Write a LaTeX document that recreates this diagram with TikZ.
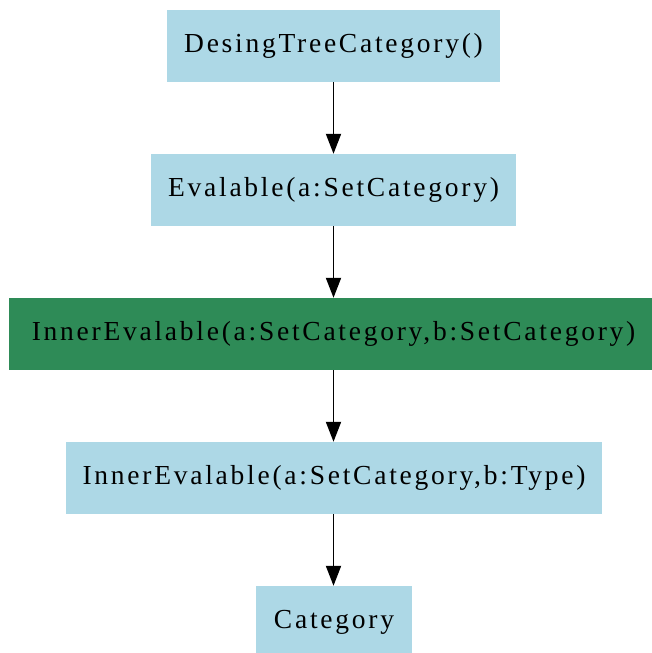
\documentclass[tikz,border=0pt]{standalone}
\usepackage{fontspec}
\setmainfont{Liberation Serif}[LetterSpace=10]
\usetikzlibrary{arrows.meta}
\definecolor{boxblue}{HTML}{ADD8E6}
\definecolor{boxgreen}{HTML}{2E8B57}
\tikzset{
  box/.style={rectangle, fill=boxblue, draw=none, inner sep=0pt, minimum height=72pt,
    font=\fontsize{27.5pt}{30pt}\selectfont, text=black},
  hot/.style={box, fill=boxgreen},
  link/.style={draw=black, line width=1.9pt, -{Triangle[length=20pt,width=15pt]}}
}
\begin{document}
\begin{tikzpicture}[x=1pt,y=1pt]
\useasboundingbox (0,0) rectangle (652,-653);
\clip (0,0) rectangle (652,-653);
\node[box, minimum width=333pt] (n1) at (333.5,-46) {DesingTreeCategory()};
\node[box, minimum width=365pt] (n2) at (333.5,-190) {Evalable(a:SetCategory)};
\node[hot, minimum width=649pt] (n3) at (333.5,-334) {InnerEvalable(a:SetCategory,b:SetCategory)};
\node[box, minimum width=536pt] (n4) at (334,-478) {InnerEvalable(a:SetCategory,b:Type)};
\node[box, minimum width=156pt] (n5) at (334,-622) {Category};
\draw[link] (n1.south) -- (n2.north);
\draw[link] (n2.south) -- (n3.north);
\draw[link] (n3.south) -- (n4.north -| n3.south);
\draw[link] (n4.south -| n3.south) -- (n5.north -| n3.south);
\end{tikzpicture}
\end{document}
